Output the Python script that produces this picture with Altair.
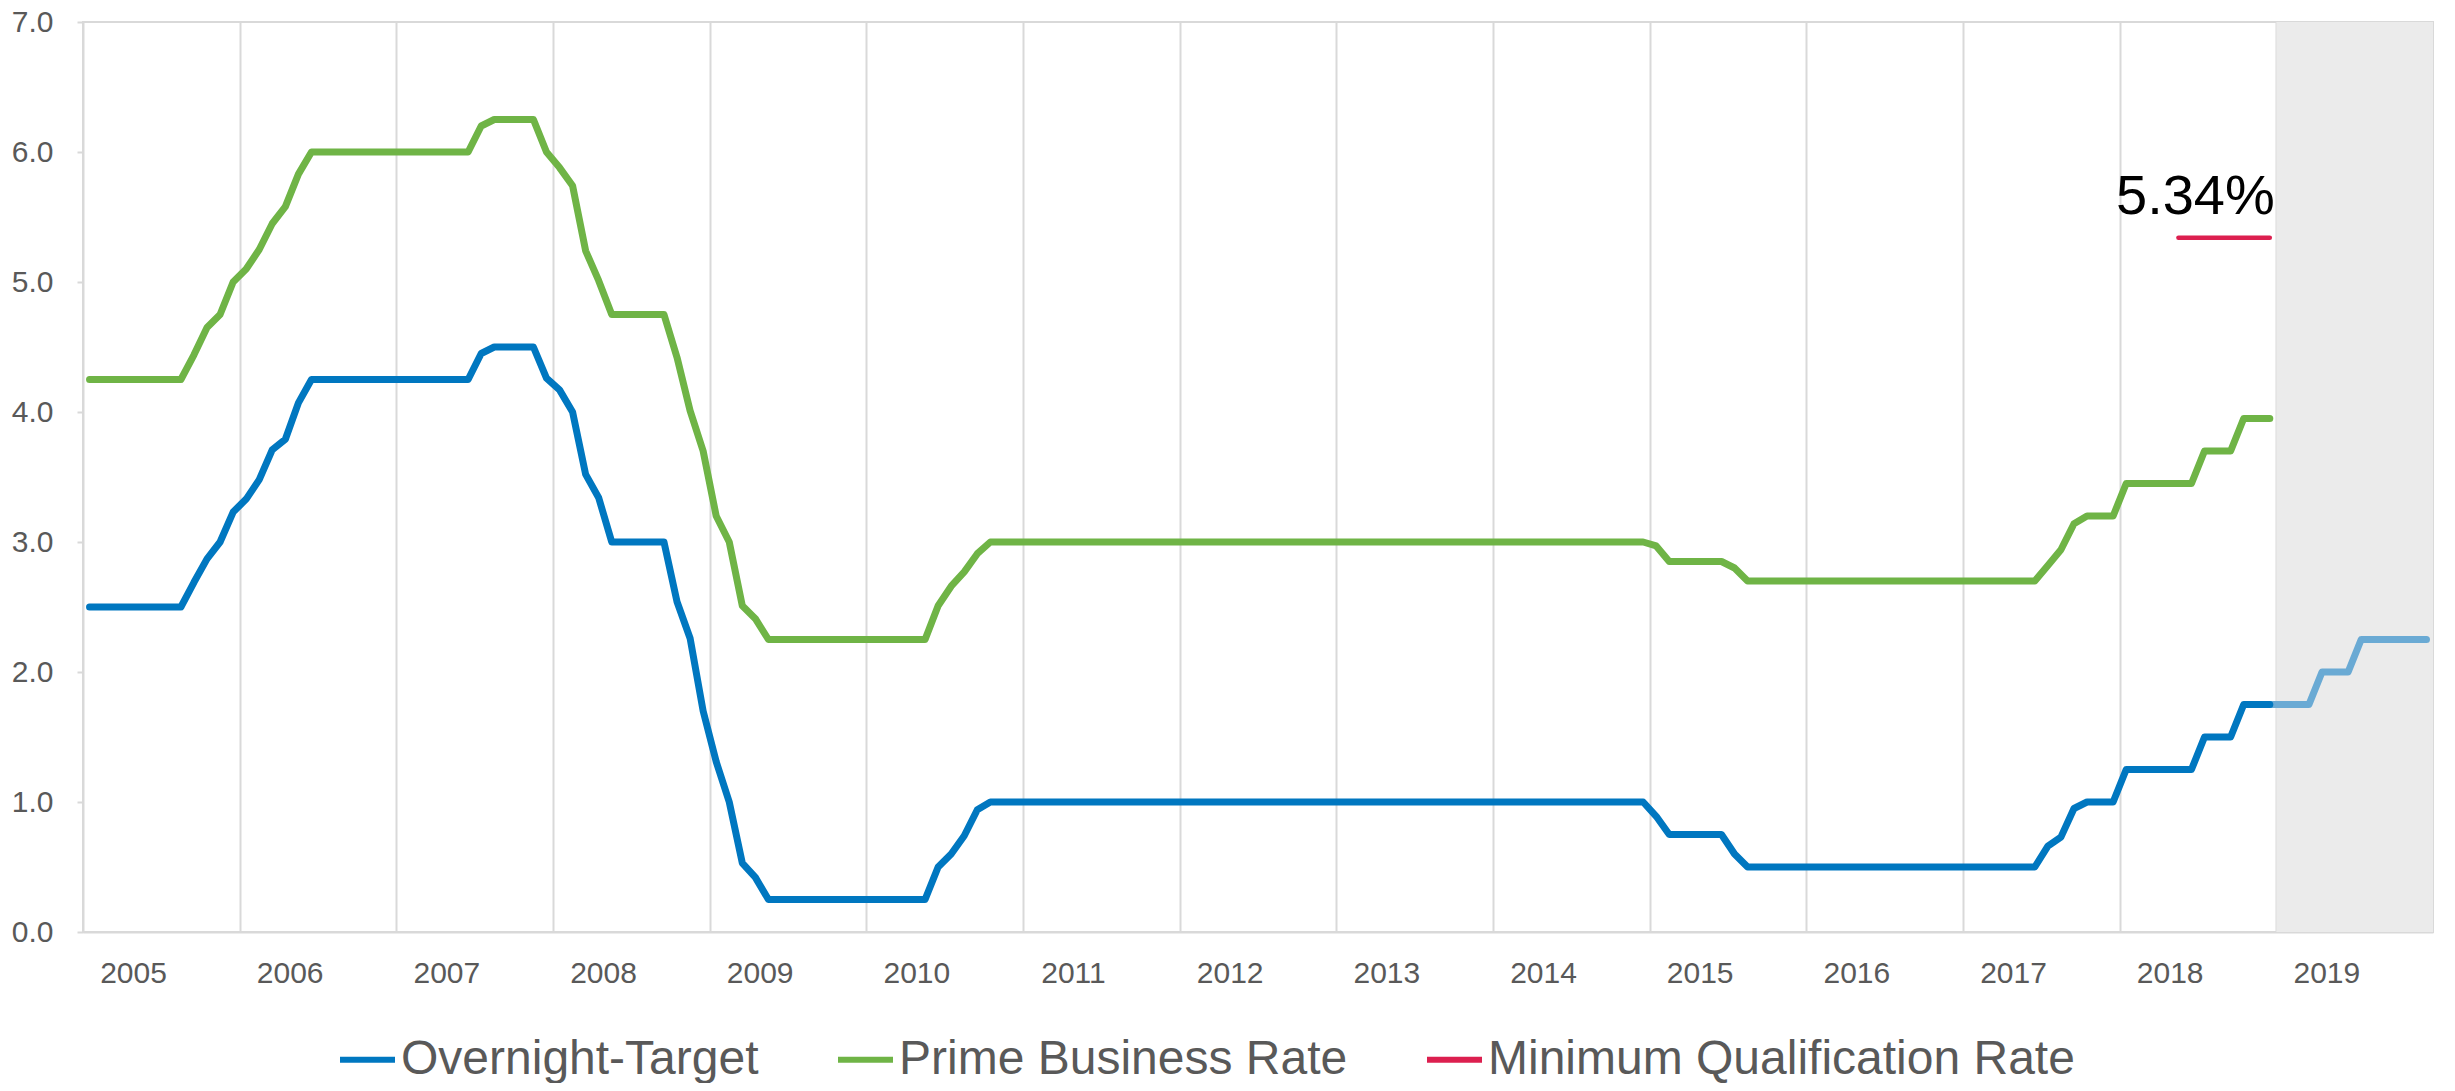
import altair as alt
import pandas as pd

# ---------------- data (monthly, Jan 2005 - Dec 2018) ----------------
start_year = 2005
overnight = [
    2.50, 2.50, 2.50, 2.50, 2.50, 2.50, 2.50, 2.50, 2.69, 2.87, 3.00, 3.23,  # 2005
    3.33, 3.48, 3.71, 3.79, 4.07, 4.25, 4.25, 4.25, 4.25, 4.25, 4.25, 4.25,  # 2006
    4.25, 4.25, 4.25, 4.25, 4.25, 4.25, 4.45, 4.50, 4.50, 4.50, 4.50, 4.26,  # 2007
    4.17, 4.00, 3.52, 3.34, 3.00, 3.00, 3.00, 3.00, 3.00, 2.54, 2.26, 1.70,  # 2008
    1.31, 1.00, 0.53, 0.42, 0.25, 0.25, 0.25, 0.25, 0.25, 0.25, 0.25, 0.25,  # 2009
    0.25, 0.25, 0.25, 0.25, 0.25, 0.50, 0.60, 0.74, 0.94, 1.00, 1.00, 1.00,  # 2010
    1.00, 1.00, 1.00, 1.00, 1.00, 1.00, 1.00, 1.00, 1.00, 1.00, 1.00, 1.00,  # 2011
    1.00, 1.00, 1.00, 1.00, 1.00, 1.00, 1.00, 1.00, 1.00, 1.00, 1.00, 1.00,  # 2012
    1.00, 1.00, 1.00, 1.00, 1.00, 1.00, 1.00, 1.00, 1.00, 1.00, 1.00, 1.00,  # 2013
    1.00, 1.00, 1.00, 1.00, 1.00, 1.00, 1.00, 1.00, 1.00, 1.00, 1.00, 1.00,  # 2014
    0.89, 0.75, 0.75, 0.75, 0.75, 0.75, 0.60, 0.50, 0.50, 0.50, 0.50, 0.50,  # 2015
    0.50, 0.50, 0.50, 0.50, 0.50, 0.50, 0.50, 0.50, 0.50, 0.50, 0.50, 0.50,  # 2016
    0.50, 0.50, 0.50, 0.50, 0.50, 0.50, 0.66, 0.73, 0.95, 1.00, 1.00, 1.00,  # 2017
    1.25, 1.25, 1.25, 1.25, 1.25, 1.25, 1.50, 1.50, 1.50, 1.75, 1.75, 1.75,  # 2018
]
prime = [
    4.25, 4.25, 4.25, 4.25, 4.25, 4.25, 4.25, 4.25, 4.44, 4.65, 4.75, 5.00,  # 2005
    5.10, 5.25, 5.45, 5.58, 5.83, 6.00, 6.00, 6.00, 6.00, 6.00, 6.00, 6.00,  # 2006
    6.00, 6.00, 6.00, 6.00, 6.00, 6.00, 6.20, 6.25, 6.25, 6.25, 6.25, 6.00,  # 2007
    5.88, 5.74, 5.24, 5.01, 4.75, 4.75, 4.75, 4.75, 4.75, 4.42, 4.01, 3.70,  # 2008
    3.20, 3.00, 2.51, 2.41, 2.25, 2.25, 2.25, 2.25, 2.25, 2.25, 2.25, 2.25,  # 2009
    2.25, 2.25, 2.25, 2.25, 2.25, 2.51, 2.66, 2.77, 2.91, 3.00, 3.00, 3.00,  # 2010
    3.00, 3.00, 3.00, 3.00, 3.00, 3.00, 3.00, 3.00, 3.00, 3.00, 3.00, 3.00,  # 2011
    3.00, 3.00, 3.00, 3.00, 3.00, 3.00, 3.00, 3.00, 3.00, 3.00, 3.00, 3.00,  # 2012
    3.00, 3.00, 3.00, 3.00, 3.00, 3.00, 3.00, 3.00, 3.00, 3.00, 3.00, 3.00,  # 2013
    3.00, 3.00, 3.00, 3.00, 3.00, 3.00, 3.00, 3.00, 3.00, 3.00, 3.00, 3.00,  # 2014
    2.97, 2.85, 2.85, 2.85, 2.85, 2.85, 2.80, 2.70, 2.70, 2.70, 2.70, 2.70,  # 2015
    2.70, 2.70, 2.70, 2.70, 2.70, 2.70, 2.70, 2.70, 2.70, 2.70, 2.70, 2.70,  # 2016
    2.70, 2.70, 2.70, 2.70, 2.70, 2.70, 2.82, 2.94, 3.14, 3.20, 3.20, 3.20,  # 2017
    3.45, 3.45, 3.45, 3.45, 3.45, 3.45, 3.70, 3.70, 3.70, 3.95, 3.95, 3.95,  # 2018
]
# Minimum Qualification Rate, May - Dec 2018
mqr_start_index = 160
mqr = [5.34, 5.34, 5.34, 5.34, 5.34, 5.34, 5.34, 5.34]
# Overnight forecast, Dec 2018 - Dec 2019
forecast_start_index = 167
forecast = [1.75, 1.75, 1.75, 1.75, 2.00, 2.00, 2.00, 2.25, 2.25, 2.25, 2.25, 2.25, 2.25]
# shaded forecast period
shade_from, shade_to = 2019, 2020

series_names = ["Overnight-Target", "Prime Business Rate", "Minimum Qualification Rate"]
series_colors = ["#0077c0", "#6fb446", "#dc1f4f"]
forecast_color = "#6aaad4"
year_ticks = list(range(2005, 2020))
y_ticks = [0, 1, 2, 3, 4, 5, 6, 7]


def month_pos(i):
    return start_year + (i + 0.5) / 12.0


rows = []
for i, v in enumerate(overnight):
    rows.append({"x": month_pos(i), "y": v, "series": series_names[0]})
for i, v in enumerate(prime):
    rows.append({"x": month_pos(i), "y": v, "series": series_names[1]})
lines_df = pd.DataFrame(rows)
mqr_df = pd.DataFrame({
    "x": [month_pos(mqr_start_index + i) for i in range(len(mqr))],
    "y": mqr,
    "series": series_names[2],
})
fc_df = pd.DataFrame({
    "x": [month_pos(forecast_start_index + i) for i in range(len(forecast))],
    "y": forecast,
})
label_df = pd.DataFrame({"x": [mqr_df["x"].iloc[-1]], "y": [mqr[-1]],
                         "label": [f"{mqr[-1]:.2f}%"]})
shade_df = pd.DataFrame({"x": [shade_from], "xend": [shade_to], "y": [0], "yend": [7]})

FONT = "Liberation Sans"
GRAY = "#d9d9d9"
TXT = "#595959"

X = alt.X("x:Q", scale=alt.Scale(domain=[2005, 2020], nice=False, zero=False),
          axis=alt.Axis(values=year_ticks, format="d", title=None, grid=True,
                        gridColor=GRAY, gridWidth=2, ticks=False, tickSize=0,
                        domain=True, domainColor=GRAY, domainWidth=2,
                        labelFont=FONT, labelFontSize=30, labelColor=TXT,
                        labelPadding=26, labelOffset=50, labelFlush=False,
                        labelOverlap=False))
Y = alt.Y("y:Q", scale=alt.Scale(domain=[0, 7], nice=False, zero=True),
          axis=alt.Axis(values=y_ticks, format=".1f", title=None, grid=False,
                        domain=False, ticks=True, tickColor=GRAY, tickWidth=2,
                        tickSize=6, labelFont=FONT, labelFontSize=30,
                        labelColor=TXT, labelPadding=24))

color = alt.Color("series:N",
                  scale=alt.Scale(domain=series_names, range=series_colors),
                  legend=alt.Legend(orient="none", legendX=254, legendY=1007,
                                    direction="horizontal", title=None,
                                    symbolType="stroke", symbolSize=3025,
                                    symbolStrokeWidth=6, labelFont=FONT,
                                    labelFontSize=48, labelColor=TXT,
                                    labelLimit=1000, columnPadding=67,
                                    labelOffset=3, padding=0))

shade = alt.Chart(shade_df).mark_rect(color="#ebebeb").encode(
    x=X, x2="xend:Q", y=Y, y2="yend:Q")

fc_line = alt.Chart(fc_df).mark_line(color=forecast_color, strokeWidth=7,
                                     strokeCap="round", strokeJoin="round").encode(x=X, y=Y)

main_lines = alt.Chart(lines_df).mark_line(strokeWidth=7, strokeCap="round",
                                           strokeJoin="round").encode(
    x=X, y=Y, color=color, detail="series:N")

mqr_line = alt.Chart(mqr_df).mark_line(strokeWidth=4.5, strokeCap="round").encode(
    x=X, y=Y, color=color)

label = alt.Chart(label_df).mark_text(font=FONT, fontSize=56, color="#000000",
                                      align="right", baseline="alphabetic",
                                      dx=5, dy=-24).encode(x=X, y=Y, text="label:N")

chart = alt.layer(shade, fc_line, main_lines, mqr_line, label).properties(
    width=2350, height=910, autosize="none",
    padding={"left": 75, "top": 14, "right": 10, "bottom": 151},
    background="white",
).configure_view(stroke=GRAY, strokeWidth=2)

chart.save("out.html", embed_options={"renderer": "svg", "actions": False})
